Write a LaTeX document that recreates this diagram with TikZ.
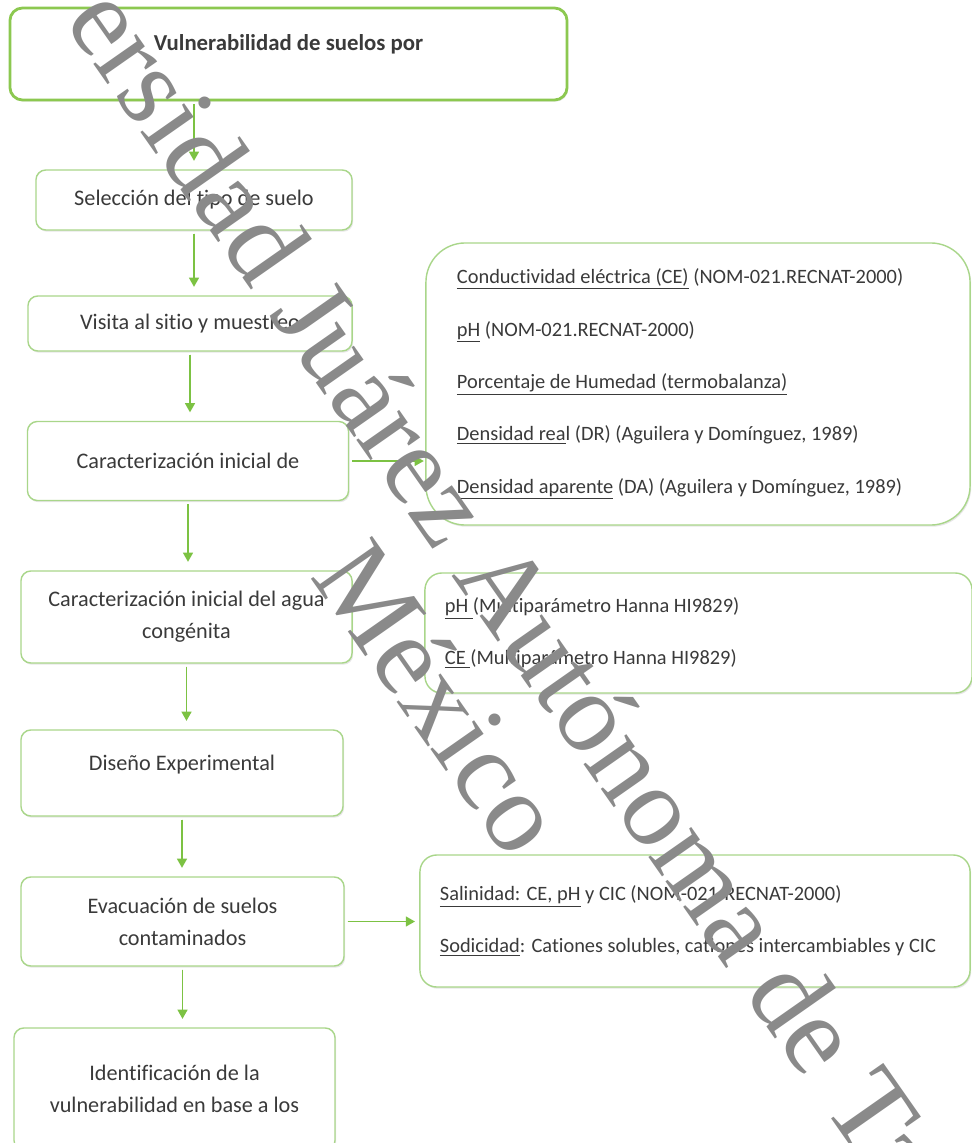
\documentclass[tikz,border=0pt]{standalone}
\usepackage{fontspec}
\setmainfont{Carlito}[Ligatures=CommonOff]
\newfontfamily\marcafont{Liberation Serif}
\usetikzlibrary{arrows.meta,shadows}
\definecolor{verdecaja}{HTML}{A9D68A}
\definecolor{verdetitulo}{HTML}{8CC850}
\definecolor{verdeflecha}{HTML}{7CC243}
\definecolor{gristexto}{HTML}{3A3A3A}
\definecolor{grismarca}{HTML}{8A8A8A}
\begin{document}
\begin{tikzpicture}[x=0.025cm,y=-0.025cm,
caja/.style={draw=verdecaja,line width=1pt,rounded corners=7pt,fill=white,text=gristexto,align=center,inner sep=0pt,font=\fontsize{15.8pt}{22.7pt}\selectfont,drop shadow={shadow xshift=0.8pt,shadow yshift=-1.2pt,opacity=0.2}},
lista/.style={caja,align=flush left,rounded corners=12pt,font=\fontsize{14.5pt}{37.2pt}\selectfont},
flecha/.style={draw=verdeflecha,line width=1.2pt,-{Triangle[width=7pt,length=6.5pt]},fill=verdeflecha,shorten >=6pt,shorten <=2pt}]
\useasboundingbox (0,0) rectangle (972,1143);
\clip (0,0) rectangle (972,1143);
% columna de pasos
\node[caja,draw=verdetitulo,line width=2pt,rounded corners=9pt,minimum width=13.925cm,minimum height=2.3cm,text depth=16pt,font=\bfseries\fontsize{16.2pt}{22.7pt}\selectfont] (titulo) at (288.5,54) {Vulnerabilidad de suelos por};
\node[caja,minimum width=7.9cm,minimum height=1.5cm] (seleccion) at (194,200) {Selección del tipo de suelo};
\node[caja,minimum width=8.1cm,minimum height=1.375cm] (visita) at (190,323.5) {Visita al sitio y muestreo};
\node[caja,minimum width=8.025cm,minimum height=1.975cm] (caracsuelo) at (188,461) {Caracterización inicial de};
\node[caja,minimum width=8.275cm,minimum height=2.3cm] (caracagua) at (186.5,617) {Caracterización inicial del agua\\congénita};
\node[caja,minimum width=8.05cm,minimum height=2.15cm,text depth=14pt] (diseno) at (182,773) {Diseño Experimental};
\node[caja,minimum width=8.075cm,minimum height=2.225cm] (evacuacion) at (182.5,921.5) {Evacuación de suelos\\contaminados};
\node[caja,minimum width=8.025cm,minimum height=3.05cm] (identificacion) at (174.5,1089) {Identificación de la\\vulnerabilidad en base a los};
% parametros
\node[lista,rounded corners=28pt,minimum width=13.6cm,minimum height=7.05cm,text width=12.05cm] (parsuelo) at (698,384) {\underline{Conductividad eléctrica (CE)} (NOM-021.RECNAT-2000)\\
\underline{pH} (NOM-021.RECNAT-2000)\\
\underline{Porcentaje de Humedad (termobalanza)}\\
\underline{Densidad rea}l (DR) (Aguilera y Domínguez, 1989)\\
\underline{Densidad aparente} (DA) (Aguilera y Domínguez, 1989)};
\node[lista,minimum width=13.675cm,minimum height=3cm,text width=12.675cm] (paragua) at (698.5,633) {\underline{pH\ }(Multiparámetro Hanna HI9829)\\
\underline{CE\ }(Multiparámetro Hanna HI9829)};
\node[lista,minimum width=13.75cm,minimum height=3.3cm,text width=12.75cm] (parsalinidad) at (695,921) {\underline{Salinidad: CE, pH} y CIC (NOM-021-RECNAT-2000)\\
\underline{Sodicidad}: Cationes solubles, cationes intercambiables y CIC};
% flechas
\draw[flecha] (titulo.south -| seleccion) -- (seleccion);
\draw[flecha] (seleccion) -- (seleccion |- visita.north);
\draw[flecha] (visita) -- (visita |- caracsuelo.north);
\draw[flecha] (caracsuelo) -- (caracsuelo |- caracagua.north);
\draw[flecha] (caracagua) -- (caracagua |- diseno.north);
\draw[flecha] (diseno) -- (diseno |- evacuacion.north);
\draw[flecha] (evacuacion) -- (evacuacion |- identificacion.north);
\draw[flecha,shorten >=1pt] (caracsuelo) -- (caracsuelo -| parsuelo.west);
\draw[flecha,shorten >=3pt] (evacuacion) -- (evacuacion -| parsalinidad.west);
% marca de agua
\node[rotate=-55,text=grismarca,align=center,font=\marcafont\fontsize{81pt}{83pt}\selectfont] (marca) at (467.7,632.9) {Universidad Juárez Autónoma de Tabasco\\\hspace*{53pt}México};
\end{tikzpicture}
\end{document}
